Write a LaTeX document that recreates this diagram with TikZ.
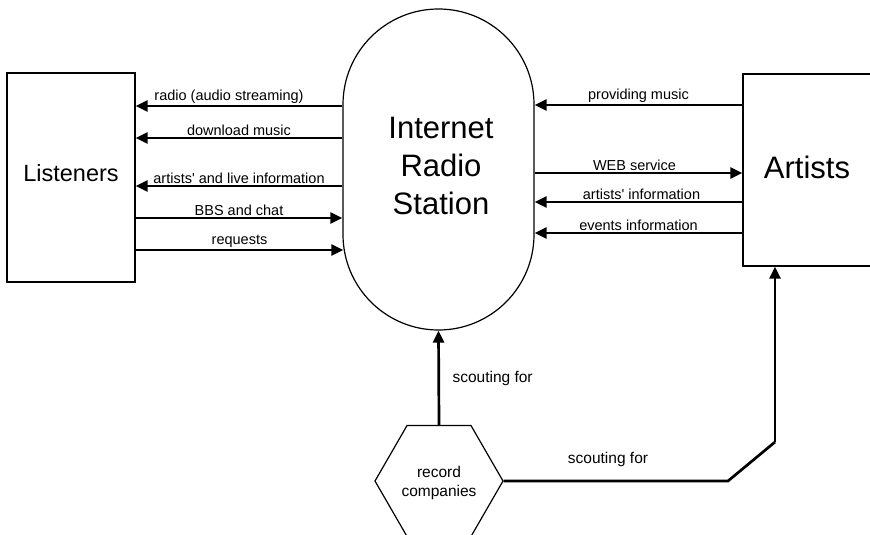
\documentclass[tikz,border=0pt]{standalone}
\usepackage{fontspec}
\setmainfont{Liberation Sans}
\usetikzlibrary{arrows.meta,shapes.geometric}

\tikzset{
  x=1pt, y=-1pt,
  entity/.style={draw, line width=1.2pt, rectangle, inner sep=0pt},
  flow/.style={line width=2.7pt, -{Triangle[length=12pt,width=11pt]}},
  link/.style={line width=2.7pt},
  flowlabel/.style={font=\fontsize{14.5}{16}\selectfont, anchor=south, inner sep=1pt},
  biglabel/.style={font=\fontsize{15.5}{17}\selectfont},
}

\begin{document}
\begin{tikzpicture}
\useasboundingbox (0,0) rectangle (870,535);

% external entities
\node[entity, minimum width=128pt, minimum height=209pt] (lis) at (71,177.5) {};
\node[font=\fontsize{23.5}{26}\selectfont] at (71,173) {Listeners};
\node[entity, minimum width=129pt, minimum height=192pt] (art) at (807.5,170) {};
\node[font=\fontsize{31}{34}\selectfont] at (807,167) {Artists};

% central process
\node[draw, line width=1.2pt, rectangle, rounded corners=95.5pt,
      minimum width=191pt, minimum height=321pt, inner sep=0pt] (stn) at (438.5,169.5) {};
\node[align=center, font=\fontsize{31}{38}\selectfont] at (441,166) {Internet\\Radio\\Station};

% record companies
\node[draw, line width=1.2pt, regular polygon, regular polygon sides=6,
      minimum size=128pt, inner sep=0pt] (rec) at (439,481) {};
\node[align=center, font=\fontsize{15.5}{19}\selectfont] at (439,483) {record\\companies};

% station <-> listeners
\draw[flow] (stn.west |- 0,106) -- node[flowlabel, xshift=-10pt] {radio (audio streaming)} (lis.east |- 0,106);
\draw[flow] (stn.west |- 0,138) -- node[flowlabel] {download music} (lis.east |- 0,138);
\draw[flow] (stn.west |- 0,186) -- node[flowlabel] {artists\textquotesingle\ and live information} (lis.east |- 0,186);
\draw[flow] (lis.east |- 0,218) -- node[flowlabel] {BBS and chat} (stn.west |- 0,218);
\draw[flow] (lis.east |- 0,250) -- node[flowlabel] {requests} ([xshift=1pt]stn.west |- 0,250);

% station <-> artists
\draw[flow] (art.west |- 0,105) -- node[flowlabel] {providing music} (stn.east |- 0,105);
\draw[flow] (stn.east |- 0,173) -- node[flowlabel, xshift=-4pt] {WEB service} (art.west |- 0,173);
\draw[flow] (art.west |- 0,202) -- node[flowlabel, xshift=3pt] {artists\textquotesingle\ information} (stn.east |- 0,202);
\draw[flow] (art.west |- 0,233) -- node[flowlabel] {events information} (stn.east |- 0,233);

% scouting
\draw[flow] (rec.north) -- (stn.south);
\node[biglabel, anchor=west] at (449,378) {scouting for};

\coordinate (knee) at (728,481);
\coordinate (rise) at (775,442);
\draw[link] (rec.east) -- (knee) -- (rise);
\draw[flow] (rise) -- (rise |- art.south);
\node[biglabel, anchor=south, inner sep=1pt] at (608,468) {scouting for};
\end{tikzpicture}
\end{document}
